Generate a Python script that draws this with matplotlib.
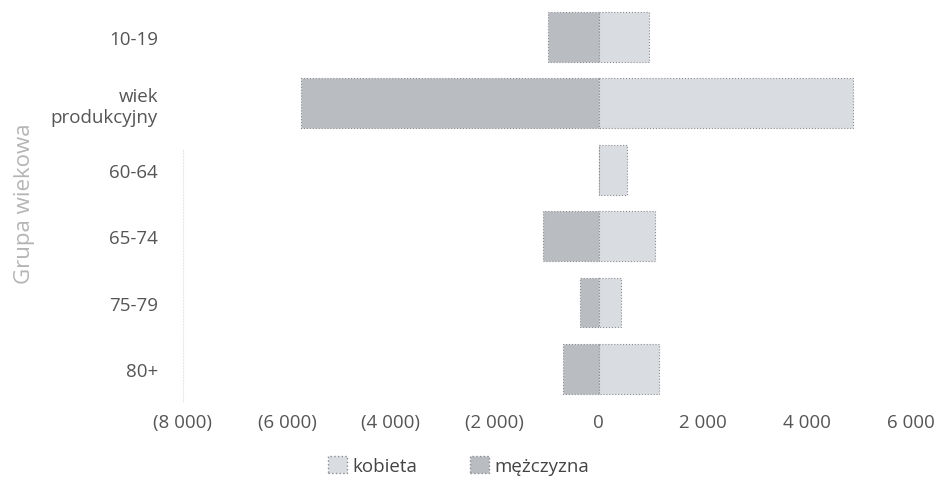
import matplotlib.pyplot as plt
from matplotlib.ticker import FuncFormatter
from matplotlib.patches import Patch

plt.rcParams['font.family'] = ['Open Sans', 'DejaVu Sans']

# dane
grupy = ['10-19', 'wiek\nprodukcyjny', '60-64', '65-74', '75-79', '80+']
kobieta = [960, 4890, 540, 1080, 420, 1150]
mezczyzna = [-980, -5730, 0, -1080, -370, -690]

kolor_k = '#d9dce1'
kolor_m = '#b9bcc1'
krawedz = '#8a8c90'

fig = plt.figure(figsize=(9.36, 4.81), dpi=100)
ax = fig.add_axes([0.1955, 0.162, 0.7775, 0.828])

y = list(range(len(grupy)))
ax.barh(y, mezczyzna, height=0.75, color=kolor_m, edgecolor=krawedz,
        linewidth=0.8, linestyle=':')
ax.barh(y, kobieta, height=0.75, color=kolor_k, edgecolor=krawedz,
        linewidth=0.8, linestyle=':')

ax.set_xlim(-8000, 6000)
ax.set_ylim(len(grupy) - 0.5, -0.5)
ax.set_xticks(range(-8000, 6001, 2000))


def fmt(v, pos):
    s = '{:,}'.format(int(abs(v))).replace(',', ' ')
    return '(' + s + ')' if v < 0 else s


ax.xaxis.set_major_formatter(FuncFormatter(fmt))
ax.set_yticks(y)
ax.set_yticklabels(grupy)
ax.tick_params(axis='both', length=0, labelsize=13.5, colors='#555555')
ax.tick_params(axis='y', pad=18)
ax.tick_params(axis='x', pad=8)

for s in ['top', 'right', 'bottom']:
    ax.spines[s].set_visible(False)
ax.spines['left'].set_color('#e8e8e8')
ax.spines['left'].set_linestyle(':')
ax.spines['left'].set_bounds(1.7, 5.5)

ax.set_ylabel('Grupa wiekowa', fontsize=16, color='#b5b5b5', labelpad=11)

handles = [Patch(facecolor=kolor_k, edgecolor=krawedz, linestyle=':', label='kobieta'),
           Patch(facecolor=kolor_m, edgecolor=krawedz, linestyle=':', label='mężczyzna')]
leg = fig.legend(handles=handles, loc='center', bbox_to_anchor=(0.49, 0.03), ncol=2,
                 frameon=False, fontsize=13.5, handlelength=1.0, handleheight=1.0,
                 handletextpad=0.3, columnspacing=2.8)
for t in leg.get_texts():
    t.set_color('#444444')

fig.savefig('out.png', dpi=100)
